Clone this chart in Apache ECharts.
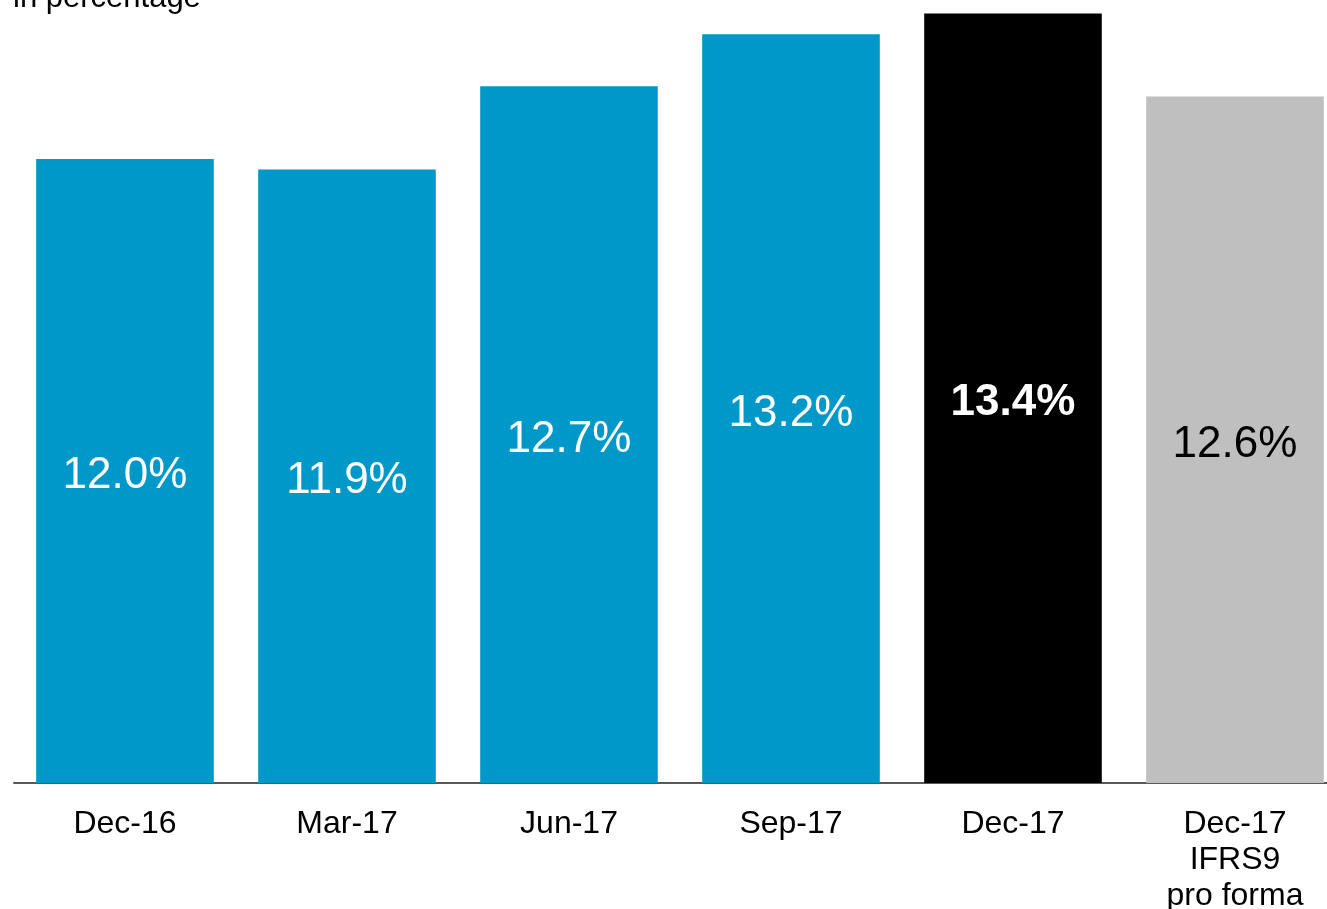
<!DOCTYPE html>
<html>
<head>
<meta charset="utf-8">
<style>
  html, body { margin: 0; padding: 0; background: #ffffff; }
  #chart { width: 1327px; height: 909px; }
</style>
<script src="https://cdn.jsdelivr.net/npm/echarts@6/dist/echarts.min.js"></script>
</head>
<body>
<div id="chart"></div>
<script>
// Ratio by quarter, in percentage
const categories = ['Dec-16', 'Mar-17', 'Jun-17', 'Sep-17', 'Dec-17', 'Dec-17\nIFRS9\npro forma'];
const ratios = [12.0, 11.9, 12.7, 13.2, 13.4, 12.6];
const unitNote = 'in percentage';

const FONT = '"Liberation Sans", Arial, Helvetica, sans-serif';
const BLUE = '#0098C8';

// Bar colour and label style per category: quarters in blue,
// the reported year-end highlighted in black, pro forma in grey.
function barStyle(i) {
  if (i === 4) return { fill: '#000000', text: '#ffffff', weight: 'bold' };
  if (i === 5) return { fill: '#BFBFBF', text: '#000000', weight: 'normal' };
  return { fill: BLUE, text: '#ffffff', weight: 'normal' };
}

const chart = echarts.init(document.getElementById('chart'), null, { renderer: 'canvas' });

chart.setOption({
  animation: false,
  backgroundColor: '#ffffff',
  textStyle: { fontFamily: FONT },
  title: {
    text: unitNote,
    left: 13,
    top: -17,
    padding: 0,
    textStyle: { fontFamily: FONT, fontSize: 31, fontWeight: 'normal', color: '#000000' }
  },
  grid: {
    left: 14, right: -19, top: 3, bottom: 126,
    containLabel: false,
    outerBoundsMode: 'none'
  },
  xAxis: {
    type: 'category',
    data: categories,
    axisLine: { show: true, lineStyle: { color: '#595959', width: 2 } },
    axisTick: { show: false },
    axisLabel: {
      fontFamily: FONT,
      fontSize: 32,
      lineHeight: 36,
      color: '#000000',
      margin: 23,
      interval: 0
    }
  },
  yAxis: {
    type: 'value',
    min: 6,
    max: 13.5,
    show: false,
    splitLine: { show: false }
  },
  series: [{
    type: 'bar',
    barWidth: '80%',
    data: ratios.map((v, i) => {
      const s = barStyle(i);
      return {
        value: v,
        itemStyle: { color: s.fill },
        label: { color: s.text, fontWeight: s.weight }
      };
    }),
    label: {
      show: true,
      position: 'inside',
      offset: [0, 5],
      fontFamily: FONT,
      fontSize: 44,
      formatter: p => p.value.toFixed(1) + '%'
    }
  }]
});
</script>
</body>
</html>
